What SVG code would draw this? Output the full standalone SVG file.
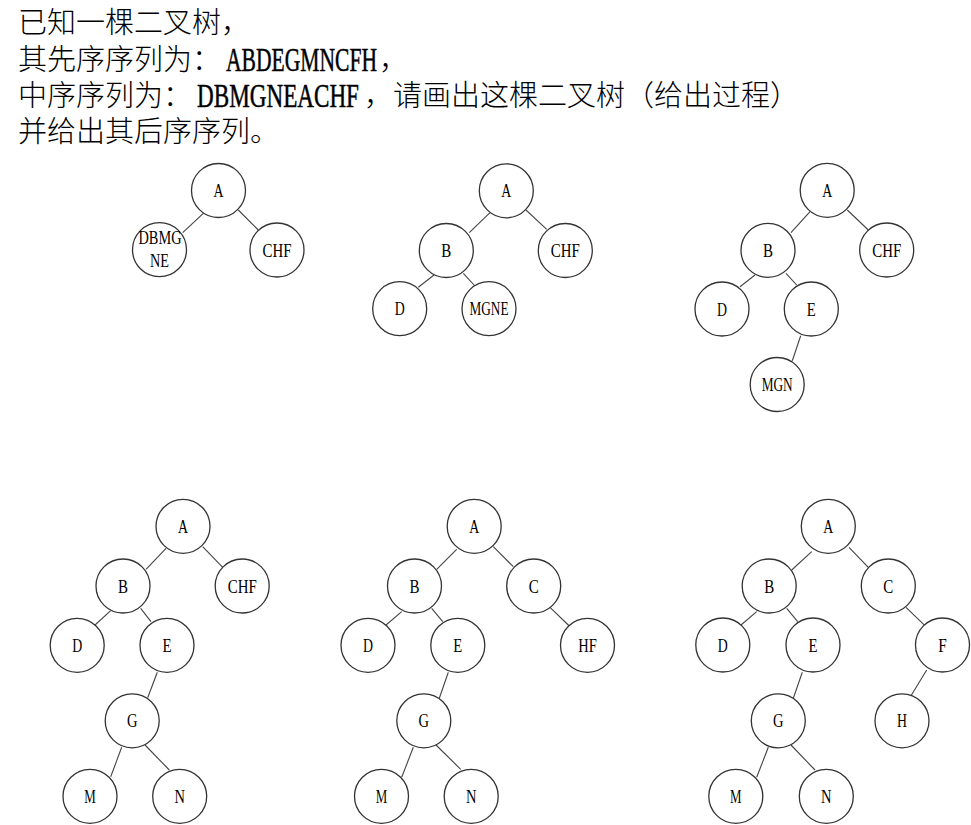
<svg xmlns="http://www.w3.org/2000/svg" width="971" height="825" viewBox="0 0 971 825">
<style>
.bg{fill:#fff}
.cjk{font-family:"Noto Sans CJK SC","Noto Sans",sans-serif;font-size:29px;font-weight:300;fill:#000}
.lat{font-family:"Liberation Serif",serif;font-size:33px;font-weight:normal;stroke:#000;stroke-width:0.5}
.n circle{fill:#fff;stroke:#333;stroke-width:1.3}
.n text{font-family:"Liberation Serif",serif;font-size:19px;text-anchor:middle;fill:#000}
#edges line{stroke:#444;stroke-width:1.1}
</style>
<rect class="bg" width="971" height="825"/>
<g id="header">
<text class="cjk"><tspan x="18" y="33">已知一棵二叉树，</tspan><tspan x="18" y="70">其先序序列为：</tspan><tspan class="lat" x="226" y="71" textLength="151" lengthAdjust="spacingAndGlyphs">ABDEGMNCFH</tspan><tspan x="379" y="70">，</tspan><tspan x="18" y="106">中序序列为：</tspan><tspan class="lat" x="197" y="107" textLength="162" lengthAdjust="spacingAndGlyphs">DBMGNEACHF</tspan><tspan x="364" y="106">，请画出这棵二叉树（给出过程）</tspan><tspan x="18" y="142">并给出其后序序列。</tspan></text>
</g>
<g id="edges">
<line x1="203.3" y1="213.3" x2="182.7" y2="232.7"/>
<line x1="238.3" y1="210" x2="258.3" y2="230"/>
<line x1="490" y1="212.7" x2="469.3" y2="232.7"/>
<line x1="526" y1="210" x2="546.7" y2="229.3"/>
<line x1="434" y1="275" x2="418.3" y2="287.3"/>
<line x1="463.3" y1="273.3" x2="475" y2="286"/>
<line x1="810" y1="211.7" x2="791" y2="232.7"/>
<line x1="847.3" y1="210" x2="868.3" y2="230"/>
<line x1="755" y1="275" x2="740" y2="286.7"/>
<line x1="786" y1="273.3" x2="796.7" y2="285"/>
<line x1="800.7" y1="335.7" x2="792.3" y2="360.7"/>
<line x1="166" y1="548.3" x2="146" y2="569.3"/>
<line x1="202.7" y1="546.7" x2="222.7" y2="567.3"/>
<line x1="110.7" y1="610.7" x2="95" y2="625"/>
<line x1="140.7" y1="608.3" x2="151" y2="621.7"/>
<line x1="157.3" y1="672.3" x2="147.7" y2="697.7"/>
<line x1="121.7" y1="747.3" x2="110.7" y2="776.7"/>
<line x1="145" y1="745" x2="169.3" y2="770"/>
<line x1="456.7" y1="549.3" x2="436.7" y2="569.3"/>
<line x1="493.3" y1="546.7" x2="513.3" y2="566.7"/>
<line x1="401.7" y1="611.7" x2="386" y2="625"/>
<line x1="431.7" y1="608.3" x2="442.7" y2="621.7"/>
<line x1="550" y1="607.3" x2="569.3" y2="626"/>
<line x1="448.3" y1="672.3" x2="439.3" y2="698.3"/>
<line x1="413.3" y1="747.3" x2="401.7" y2="777.3"/>
<line x1="436" y1="745" x2="460.7" y2="769.3"/>
<line x1="811.7" y1="551.7" x2="791.7" y2="570"/>
<line x1="849" y1="547.3" x2="868.3" y2="567.3"/>
<line x1="756.7" y1="611.7" x2="741" y2="625"/>
<line x1="786.7" y1="608.3" x2="797.7" y2="621.7"/>
<line x1="906" y1="607.3" x2="926" y2="626.7"/>
<line x1="802.3" y1="672.3" x2="793.3" y2="698.3"/>
<line x1="926.7" y1="670" x2="911" y2="695.7"/>
<line x1="768.3" y1="747.3" x2="756.7" y2="777.3"/>
<line x1="791" y1="745" x2="815" y2="770"/>
</g>
<g id="t1-A" class="n"><circle cx="218.5" cy="190.5" r="27"/><text x="218.5" y="197" textLength="10" lengthAdjust="spacingAndGlyphs">A</text></g>
<g id="t1-DBMGNE" class="n"><circle cx="159.5" cy="249.7" r="27"/><text x="160" y="244" textLength="43" lengthAdjust="spacingAndGlyphs">DBMG</text><text x="159.5" y="266.5" textLength="19" lengthAdjust="spacingAndGlyphs">NE</text></g>
<g id="t1-CHF" class="n"><circle cx="277" cy="250" r="27"/><text x="277" y="256.5" textLength="29" lengthAdjust="spacingAndGlyphs">CHF</text></g>

<g id="t2-A" class="n"><circle cx="506.3" cy="190.8" r="27"/><text x="506.3" y="197.3" textLength="10" lengthAdjust="spacingAndGlyphs">A</text></g>
<g id="t2-B" class="n"><circle cx="446.3" cy="250.5" r="27"/><text x="446.3" y="257" textLength="10" lengthAdjust="spacingAndGlyphs">B</text></g>
<g id="t2-CHF" class="n"><circle cx="565.3" cy="250.5" r="27"/><text x="565.3" y="257" textLength="29" lengthAdjust="spacingAndGlyphs">CHF</text></g>
<g id="t2-D" class="n"><circle cx="399.7" cy="308.7" r="27"/><text x="399.7" y="315.2" textLength="10" lengthAdjust="spacingAndGlyphs">D</text></g>
<g id="t2-MGNE" class="n"><circle cx="489" cy="308.7" r="27"/><text x="489" y="315.2" textLength="39" lengthAdjust="spacingAndGlyphs">MGNE</text></g>

<g id="t3-A" class="n"><circle cx="827.2" cy="190.3" r="27"/><text x="827.2" y="196.8" textLength="10" lengthAdjust="spacingAndGlyphs">A</text></g>
<g id="t3-B" class="n"><circle cx="768" cy="250.3" r="27"/><text x="768" y="256.8" textLength="10" lengthAdjust="spacingAndGlyphs">B</text></g>
<g id="t3-CHF" class="n"><circle cx="886.7" cy="250" r="27"/><text x="886.7" y="256.5" textLength="29" lengthAdjust="spacingAndGlyphs">CHF</text></g>
<g id="t3-D" class="n"><circle cx="722" cy="309" r="27"/><text x="722" y="315.5" textLength="10" lengthAdjust="spacingAndGlyphs">D</text></g>
<g id="t3-E" class="n"><circle cx="811.3" cy="309" r="27"/><text x="811.3" y="315.5" textLength="9" lengthAdjust="spacingAndGlyphs">E</text></g>
<g id="t3-MGN" class="n"><circle cx="777.2" cy="384.5" r="27"/><text x="777.2" y="391" textLength="31" lengthAdjust="spacingAndGlyphs">MGN</text></g>

<g id="t4-A" class="n"><circle cx="183" cy="526.3" r="27"/><text x="183" y="532.8" textLength="10" lengthAdjust="spacingAndGlyphs">A</text></g>
<g id="t4-B" class="n"><circle cx="123" cy="586" r="27"/><text x="123" y="592.5" textLength="10" lengthAdjust="spacingAndGlyphs">B</text></g>
<g id="t4-CHF" class="n"><circle cx="242.2" cy="586" r="27"/><text x="242.2" y="592.5" textLength="29" lengthAdjust="spacingAndGlyphs">CHF</text></g>
<g id="t4-D" class="n"><circle cx="77.2" cy="645.3" r="27"/><text x="77.2" y="651.8" textLength="10" lengthAdjust="spacingAndGlyphs">D</text></g>
<g id="t4-E" class="n"><circle cx="167" cy="645.3" r="27"/><text x="167" y="651.8" textLength="9" lengthAdjust="spacingAndGlyphs">E</text></g>
<g id="t4-G" class="n"><circle cx="132.2" cy="720.8" r="27"/><text x="132.2" y="727.3" textLength="10.5" lengthAdjust="spacingAndGlyphs">G</text></g>
<g id="t4-M" class="n"><circle cx="90" cy="796.3" r="27"/><text x="90" y="802.8" textLength="11.5" lengthAdjust="spacingAndGlyphs">M</text></g>
<g id="t4-N" class="n"><circle cx="179.7" cy="796.3" r="27"/><text x="179.7" y="802.8" textLength="10.5" lengthAdjust="spacingAndGlyphs">N</text></g>

<g id="t5-A" class="n"><circle cx="474.2" cy="526.3" r="27"/><text x="474.2" y="532.8" textLength="10" lengthAdjust="spacingAndGlyphs">A</text></g>
<g id="t5-B" class="n"><circle cx="414.5" cy="586" r="27"/><text x="414.5" y="592.5" textLength="10" lengthAdjust="spacingAndGlyphs">B</text></g>
<g id="t5-C" class="n"><circle cx="533.7" cy="586" r="27"/><text x="533.7" y="592.5" textLength="10" lengthAdjust="spacingAndGlyphs">C</text></g>
<g id="t5-D" class="n"><circle cx="368" cy="645.3" r="27"/><text x="368" y="651.8" textLength="10" lengthAdjust="spacingAndGlyphs">D</text></g>
<g id="t5-E" class="n"><circle cx="457.8" cy="645.3" r="27"/><text x="457.8" y="651.8" textLength="9" lengthAdjust="spacingAndGlyphs">E</text></g>
<g id="t5-HF" class="n"><circle cx="587.5" cy="645.3" r="27"/><text x="587.5" y="651.8" textLength="18.5" lengthAdjust="spacingAndGlyphs">HF</text></g>
<g id="t5-G" class="n"><circle cx="423.8" cy="720.8" r="27"/><text x="423.8" y="727.3" textLength="10.5" lengthAdjust="spacingAndGlyphs">G</text></g>
<g id="t5-M" class="n"><circle cx="381.5" cy="796.3" r="27"/><text x="381.5" y="802.8" textLength="11.5" lengthAdjust="spacingAndGlyphs">M</text></g>
<g id="t5-N" class="n"><circle cx="471.2" cy="796.3" r="27"/><text x="471.2" y="802.8" textLength="10.5" lengthAdjust="spacingAndGlyphs">N</text></g>

<g id="t6-A" class="n"><circle cx="828.3" cy="526.3" r="27"/><text x="828.3" y="532.8" textLength="10" lengthAdjust="spacingAndGlyphs">A</text></g>
<g id="t6-B" class="n"><circle cx="769.2" cy="586" r="27"/><text x="769.2" y="592.5" textLength="10" lengthAdjust="spacingAndGlyphs">B</text></g>
<g id="t6-C" class="n"><circle cx="888.3" cy="586" r="27"/><text x="888.3" y="592.5" textLength="10" lengthAdjust="spacingAndGlyphs">C</text></g>
<g id="t6-D" class="n"><circle cx="722.8" cy="645" r="27"/><text x="722.8" y="651.5" textLength="10" lengthAdjust="spacingAndGlyphs">D</text></g>
<g id="t6-E" class="n"><circle cx="813" cy="645" r="27"/><text x="813" y="651.5" textLength="9" lengthAdjust="spacingAndGlyphs">E</text></g>
<g id="t6-F" class="n"><circle cx="942.5" cy="645" r="27"/><text x="942.5" y="651.5" textLength="8.5" lengthAdjust="spacingAndGlyphs">F</text></g>
<g id="t6-G" class="n"><circle cx="778.3" cy="720.8" r="27"/><text x="778.3" y="727.3" textLength="10.5" lengthAdjust="spacingAndGlyphs">G</text></g>
<g id="t6-H" class="n"><circle cx="902" cy="720.8" r="27"/><text x="902" y="727.3" textLength="10" lengthAdjust="spacingAndGlyphs">H</text></g>
<g id="t6-M" class="n"><circle cx="735.8" cy="796.3" r="27"/><text x="735.8" y="802.8" textLength="11.5" lengthAdjust="spacingAndGlyphs">M</text></g>
<g id="t6-N" class="n"><circle cx="826.3" cy="796.3" r="27"/><text x="826.3" y="802.8" textLength="10.5" lengthAdjust="spacingAndGlyphs">N</text></g>
</svg>
